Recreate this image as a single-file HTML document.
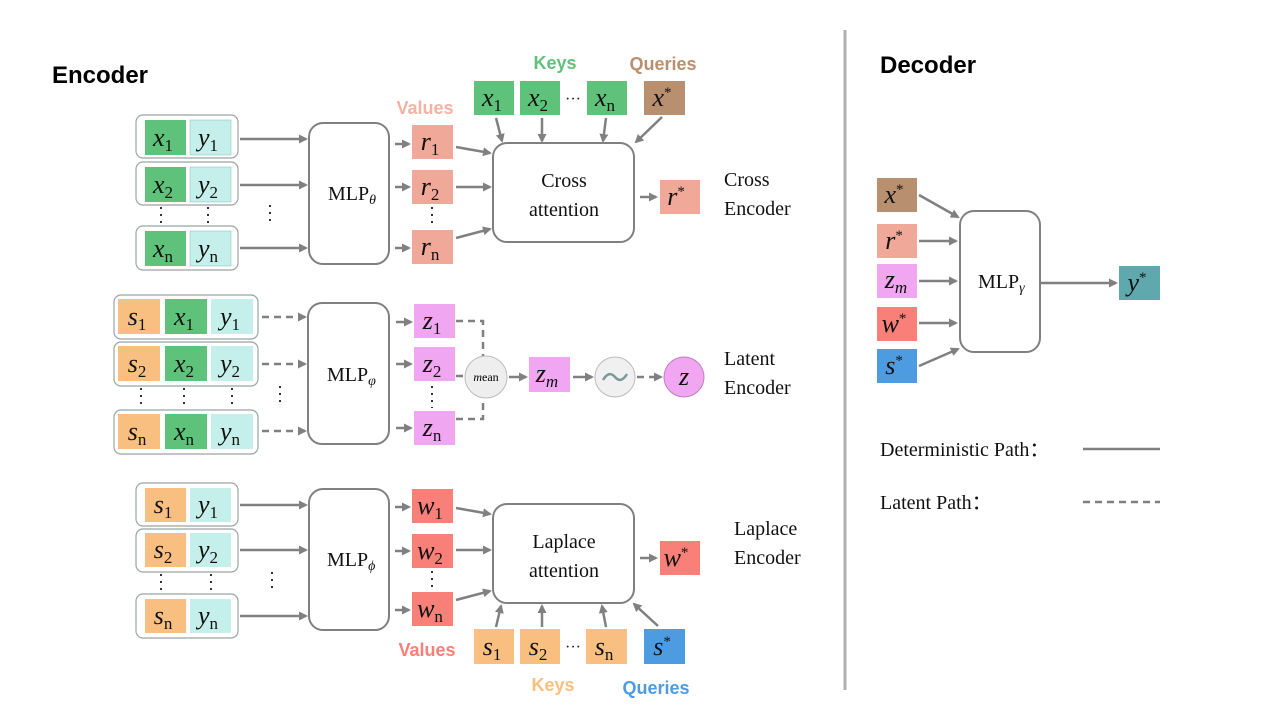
<!DOCTYPE html>
<html><head><meta charset="utf-8"><style>
body{margin:0;background:#fff}
svg{display:block}
.m{font-family:"Liberation Serif",serif;font-style:italic;font-size:26px;fill:#111}
.s{font-style:normal;font-size:17px}
.sup{font-style:normal;font-size:15px}
.t{font-family:"Liberation Serif",serif;font-size:20px;fill:#111}
.b{font-family:"Liberation Sans",sans-serif;font-weight:bold}
.ln{stroke:#808080;stroke-width:2.5;fill:none}
.d{stroke-dasharray:7,5}
.box{fill:#fff;stroke:#808080;stroke-width:2}
.cont{fill:#fff;stroke:#9aa5a5;stroke-width:1.2}
.dot{stroke:#333;stroke-width:2;stroke-dasharray:2,5}
</style></head><body>
<svg width="1280" height="720" viewBox="0 0 1280 720">
<defs><marker id="a" markerWidth="9" markerHeight="9" refX="7" refY="4.5" orient="auto" markerUnits="userSpaceOnUse"><path d="M0,0 L9,4.5 L0,9 z" fill="#808080"/></marker></defs>
<text x="52" y="83" class="b" font-size="24">Encoder</text>
<text x="880" y="73" class="b" font-size="24">Decoder</text>
<line x1="845" y1="30" x2="845" y2="690" stroke="#b0b0b0" stroke-width="3"/>

<!-- Section 1 -->
<rect class="cont" x="136" y="115" width="102" height="43" rx="7"/>
<rect class="cont" x="136" y="162" width="102" height="43" rx="7"/>
<rect class="cont" x="136" y="226" width="102" height="44" rx="7"/>
<g>
<rect x="145" y="120" width="41" height="35" fill="#5fc27a"/><text class="m" x="163" y="146" text-anchor="middle">x<tspan class="s" dy="5">1</tspan></text>
<rect x="190" y="120" width="41" height="35" fill="#c5efea" stroke="#8bb" stroke-width="0.5"/><text class="m" x="208" y="146" text-anchor="middle">y<tspan class="s" dy="5">1</tspan></text>
<rect x="145" y="167" width="41" height="35" fill="#5fc27a"/><text class="m" x="163" y="193" text-anchor="middle">x<tspan class="s" dy="5">2</tspan></text>
<rect x="190" y="167" width="41" height="35" fill="#c5efea" stroke="#8bb" stroke-width="0.5"/><text class="m" x="208" y="193" text-anchor="middle">y<tspan class="s" dy="5">2</tspan></text>
<rect x="145" y="231" width="41" height="35" fill="#5fc27a"/><text class="m" x="163" y="257" text-anchor="middle">x<tspan class="s" dy="5">n</tspan></text>
<rect x="190" y="231" width="41" height="35" fill="#c5efea" stroke="#8bb" stroke-width="0.5"/><text class="m" x="208" y="257" text-anchor="middle">y<tspan class="s" dy="5">n</tspan></text>
</g>
<line class="dot" x1="161" y1="207" x2="161" y2="226"/><line class="dot" x1="208" y1="207" x2="208" y2="226"/><line class="dot" x1="270" y1="205" x2="270" y2="226"/>
<line class="ln" x1="240" y1="139" x2="306" y2="139" marker-end="url(#a)"/>
<line class="ln" x1="240" y1="185" x2="306" y2="185" marker-end="url(#a)"/>
<line class="ln" x1="240" y1="248" x2="306" y2="248" marker-end="url(#a)"/>
<rect class="box" x="309" y="123" width="80" height="141" rx="14"/>
<text class="t" x="328" y="200">MLP<tspan font-size="14" font-style="italic" dy="4">θ</tspan></text>
<text x="425" y="114" class="b" font-size="18" fill="#f4b2a4" text-anchor="middle">Values</text>
<line class="ln" x1="395" y1="144" x2="409" y2="144" marker-end="url(#a)"/>
<line class="ln" x1="395" y1="187" x2="409" y2="187" marker-end="url(#a)"/>
<line class="ln" x1="395" y1="248" x2="409" y2="248" marker-end="url(#a)"/>
<rect x="412" y="125" width="41" height="34" fill="#f0a899"/><text class="m" x="430" y="150" text-anchor="middle">r<tspan class="s" dy="5">1</tspan></text>
<rect x="412" y="170" width="41" height="34" fill="#f0a899"/><text class="m" x="430" y="195" text-anchor="middle">r<tspan class="s" dy="5">2</tspan></text>
<rect x="412" y="230" width="41" height="34" fill="#f0a899"/><text class="m" x="430" y="255" text-anchor="middle">r<tspan class="s" dy="5">n</tspan></text>
<line class="dot" x1="432" y1="207" x2="432" y2="228"/>
<line class="ln" x1="456" y1="147" x2="490" y2="153" marker-end="url(#a)"/>
<line class="ln" x1="456" y1="187" x2="490" y2="187" marker-end="url(#a)"/>
<line class="ln" x1="456" y1="238" x2="490" y2="229" marker-end="url(#a)"/>
<rect class="box" x="493" y="143" width="141" height="99" rx="14"/>
<text class="t" x="564" y="187" text-anchor="middle">Cross</text>
<text class="t" x="564" y="216" text-anchor="middle">attention</text>
<text x="555" y="69" class="b" font-size="18" fill="#5fc27a" text-anchor="middle">Keys</text>
<text x="663" y="70" class="b" font-size="18" fill="#b8906f" text-anchor="middle">Queries</text>
<rect x="474" y="81" width="40" height="34" fill="#5fc27a"/><text class="m" x="492" y="106" text-anchor="middle">x<tspan class="s" dy="5">1</tspan></text>
<rect x="520" y="81" width="40" height="34" fill="#5fc27a"/><text class="m" x="538" y="106" text-anchor="middle">x<tspan class="s" dy="5">2</tspan></text>
<text x="573" y="104" font-size="16" fill="#222" text-anchor="middle">···</text>
<rect x="587" y="81" width="40" height="34" fill="#5fc27a"/><text class="m" x="605" y="106" text-anchor="middle">x<tspan class="s" dy="5">n</tspan></text>
<rect x="644" y="81" width="41" height="34" fill="#b8906f"/><text class="m" x="662" y="106" text-anchor="middle">x<tspan class="sup" dy="-9">*</tspan></text>
<line class="ln" x1="496" y1="118" x2="502" y2="141" marker-end="url(#a)"/>
<line class="ln" x1="542" y1="118" x2="542" y2="141" marker-end="url(#a)"/>
<line class="ln" x1="606" y1="118" x2="603" y2="141" marker-end="url(#a)"/>
<line class="ln" x1="662" y1="117" x2="636" y2="142" marker-end="url(#a)"/>
<line class="ln" x1="640" y1="197" x2="656" y2="197" marker-end="url(#a)"/>
<rect x="660" y="180" width="40" height="34" fill="#f0a899"/><text class="m" x="676" y="205" text-anchor="middle">r<tspan class="sup" dy="-9">*</tspan></text>
<text class="t" x="724" y="186">Cross</text>
<text class="t" x="724" y="215">Encoder</text>

<!-- Section 2 -->
<rect class="cont" x="114" y="295" width="144" height="44" rx="7"/>
<rect class="cont" x="114" y="342" width="144" height="44" rx="7"/>
<rect class="cont" x="114" y="410" width="144" height="44" rx="7"/>
<g>
<rect x="118" y="299" width="42" height="35" fill="#f9bf80"/><text class="m" x="137" y="325" text-anchor="middle">s<tspan class="s" dy="5">1</tspan></text>
<rect x="165" y="299" width="42" height="35" fill="#5fc27a"/><text class="m" x="184" y="325" text-anchor="middle">x<tspan class="s" dy="5">1</tspan></text>
<rect x="211" y="299" width="42" height="35" fill="#c5efea"/><text class="m" x="230" y="325" text-anchor="middle">y<tspan class="s" dy="5">1</tspan></text>
<rect x="118" y="346" width="42" height="35" fill="#f9bf80"/><text class="m" x="137" y="372" text-anchor="middle">s<tspan class="s" dy="5">2</tspan></text>
<rect x="165" y="346" width="42" height="35" fill="#5fc27a"/><text class="m" x="184" y="372" text-anchor="middle">x<tspan class="s" dy="5">2</tspan></text>
<rect x="211" y="346" width="42" height="35" fill="#c5efea"/><text class="m" x="230" y="372" text-anchor="middle">y<tspan class="s" dy="5">2</tspan></text>
<rect x="118" y="414" width="42" height="35" fill="#f9bf80"/><text class="m" x="137" y="440" text-anchor="middle">s<tspan class="s" dy="5">n</tspan></text>
<rect x="165" y="414" width="42" height="35" fill="#5fc27a"/><text class="m" x="184" y="440" text-anchor="middle">x<tspan class="s" dy="5">n</tspan></text>
<rect x="211" y="414" width="42" height="35" fill="#c5efea"/><text class="m" x="230" y="440" text-anchor="middle">y<tspan class="s" dy="5">n</tspan></text>
</g>
<line class="dot" x1="141" y1="388" x2="141" y2="409"/><line class="dot" x1="184" y1="388" x2="184" y2="409"/><line class="dot" x1="232" y1="388" x2="232" y2="409"/>
<line class="dot" x1="280" y1="386" x2="280" y2="407"/>
<line class="ln d" x1="262" y1="317" x2="305" y2="317" marker-end="url(#a)"/>
<line class="ln d" x1="262" y1="364" x2="305" y2="364" marker-end="url(#a)"/>
<line class="ln d" x1="262" y1="431" x2="305" y2="431" marker-end="url(#a)"/>
<rect class="box" x="308" y="303" width="81" height="141" rx="14"/>
<text class="t" x="327" y="381">MLP<tspan font-size="14" font-style="italic" dy="4">φ</tspan></text>
<line class="ln" x1="396" y1="322" x2="411" y2="322" marker-end="url(#a)"/>
<line class="ln" x1="396" y1="364" x2="411" y2="364" marker-end="url(#a)"/>
<line class="ln" x1="396" y1="428" x2="411" y2="428" marker-end="url(#a)"/>
<rect x="414" y="304" width="41" height="34" fill="#f0a6f0"/><text class="m" x="432" y="329" text-anchor="middle">z<tspan class="s" dy="5">1</tspan></text>
<rect x="414" y="347" width="41" height="34" fill="#f0a6f0"/><text class="m" x="432" y="372" text-anchor="middle">z<tspan class="s" dy="5">2</tspan></text>
<rect x="414" y="411" width="41" height="34" fill="#f0a6f0"/><text class="m" x="432" y="436" text-anchor="middle">z<tspan class="s" dy="5">n</tspan></text>
<line class="dot" x1="432" y1="386" x2="432" y2="408"/>
<path class="ln d" d="M456,321 H483 V356"/>
<path class="ln d" d="M456,419 H483 V398"/>
<line class="ln d" x1="456" y1="376" x2="465" y2="376"/>
<circle cx="486" cy="377" r="21" fill="#eeeeee" stroke="#bbb" stroke-width="1"/>
<text x="486" y="381" font-family="Liberation Serif,serif" font-size="12" text-anchor="middle"><tspan font-style="italic">m</tspan>ean</text>
<line class="ln" x1="509" y1="377" x2="526" y2="377" marker-end="url(#a)"/>
<rect x="529" y="357" width="41" height="35" fill="#f0a6f0"/><text class="m" x="547" y="382" text-anchor="middle">z<tspan class="s" dy="5" style="font-style:italic">m</tspan></text>
<line class="ln" x1="573" y1="377" x2="592" y2="377" marker-end="url(#a)"/>
<circle cx="615" cy="377" r="20" fill="#f0f0f0" stroke="#bbb" stroke-width="1"/>
<path d="M603,380 Q609,370 615,377 T627,374" stroke="#7a9a9a" stroke-width="2.5" fill="none"/>
<line class="ln d" x1="637" y1="377" x2="661" y2="377" marker-end="url(#a)"/>
<circle cx="684" cy="377" r="20" fill="#f0a6f0" stroke="#c080c0" stroke-width="1"/>
<text class="m" x="684" y="385" text-anchor="middle">z</text>
<text class="t" x="724" y="365">Latent</text>
<text class="t" x="724" y="394">Encoder</text>

<!-- Section 3 -->
<rect class="cont" x="136" y="483" width="102" height="43" rx="7"/>
<rect class="cont" x="136" y="529" width="102" height="43" rx="7"/>
<rect class="cont" x="136" y="594" width="102" height="44" rx="7"/>
<g>
<rect x="145" y="488" width="41" height="34" fill="#f9bf80"/><text class="m" x="163" y="513" text-anchor="middle">s<tspan class="s" dy="5">1</tspan></text>
<rect x="190" y="488" width="41" height="34" fill="#c5efea"/><text class="m" x="208" y="513" text-anchor="middle">y<tspan class="s" dy="5">1</tspan></text>
<rect x="145" y="533" width="41" height="34" fill="#f9bf80"/><text class="m" x="163" y="558" text-anchor="middle">s<tspan class="s" dy="5">2</tspan></text>
<rect x="190" y="533" width="41" height="34" fill="#c5efea"/><text class="m" x="208" y="558" text-anchor="middle">y<tspan class="s" dy="5">2</tspan></text>
<rect x="145" y="599" width="41" height="34" fill="#f9bf80"/><text class="m" x="163" y="624" text-anchor="middle">s<tspan class="s" dy="5">n</tspan></text>
<rect x="190" y="599" width="41" height="34" fill="#c5efea"/><text class="m" x="208" y="624" text-anchor="middle">y<tspan class="s" dy="5">n</tspan></text>
</g>
<line class="dot" x1="161" y1="574" x2="161" y2="594"/><line class="dot" x1="211" y1="574" x2="211" y2="594"/><line class="dot" x1="272" y1="572" x2="272" y2="592"/>
<line class="ln" x1="240" y1="505" x2="306" y2="505" marker-end="url(#a)"/>
<line class="ln" x1="240" y1="550" x2="306" y2="550" marker-end="url(#a)"/>
<line class="ln" x1="240" y1="616" x2="306" y2="616" marker-end="url(#a)"/>
<rect class="box" x="309" y="489" width="80" height="141" rx="14"/>
<text class="t" x="327" y="566">MLP<tspan font-size="14" font-style="italic" dy="4">ϕ</tspan></text>
<line class="ln" x1="395" y1="507" x2="409" y2="507" marker-end="url(#a)"/>
<line class="ln" x1="395" y1="551" x2="409" y2="551" marker-end="url(#a)"/>
<line class="ln" x1="395" y1="610" x2="409" y2="610" marker-end="url(#a)"/>
<rect x="412" y="489" width="41" height="34" fill="#f88078"/><text class="m" x="430" y="514" text-anchor="middle">w<tspan class="s" dy="5">1</tspan></text>
<rect x="412" y="534" width="41" height="34" fill="#f88078"/><text class="m" x="430" y="559" text-anchor="middle">w<tspan class="s" dy="5">2</tspan></text>
<rect x="412" y="592" width="41" height="34" fill="#f88078"/><text class="m" x="430" y="617" text-anchor="middle">w<tspan class="s" dy="5">n</tspan></text>
<line class="dot" x1="432" y1="571" x2="432" y2="590"/>
<line class="ln" x1="456" y1="508" x2="490" y2="514" marker-end="url(#a)"/>
<line class="ln" x1="456" y1="550" x2="490" y2="550" marker-end="url(#a)"/>
<line class="ln" x1="456" y1="600" x2="490" y2="591" marker-end="url(#a)"/>
<rect class="box" x="493" y="504" width="141" height="99" rx="14"/>
<text class="t" x="564" y="548" text-anchor="middle">Laplace</text>
<text class="t" x="564" y="577" text-anchor="middle">attention</text>
<line class="ln" x1="640" y1="558" x2="656" y2="558" marker-end="url(#a)"/>
<rect x="660" y="541" width="40" height="34" fill="#f88078"/><text class="m" x="676" y="566" text-anchor="middle">w<tspan class="sup" dy="-9">*</tspan></text>
<text class="t" x="734" y="535">Laplace</text>
<text class="t" x="734" y="564">Encoder</text>
<rect x="474" y="629" width="40" height="35" fill="#f9bf80"/><text class="m" x="492" y="655" text-anchor="middle">s<tspan class="s" dy="5">1</tspan></text>
<rect x="520" y="629" width="40" height="35" fill="#f9bf80"/><text class="m" x="538" y="655" text-anchor="middle">s<tspan class="s" dy="5">2</tspan></text>
<text x="573" y="652" font-size="16" fill="#222" text-anchor="middle">···</text>
<rect x="586" y="629" width="41" height="35" fill="#f9bf80"/><text class="m" x="604" y="655" text-anchor="middle">s<tspan class="s" dy="5">n</tspan></text>
<rect x="644" y="629" width="41" height="35" fill="#4d9be0"/><text class="m" x="662" y="655" text-anchor="middle">s<tspan class="sup" dy="-9">*</tspan></text>
<line class="ln" x1="496" y1="627" x2="501" y2="606" marker-end="url(#a)"/>
<line class="ln" x1="542" y1="627" x2="542" y2="606" marker-end="url(#a)"/>
<line class="ln" x1="606" y1="627" x2="602" y2="606" marker-end="url(#a)"/>
<line class="ln" x1="658" y1="626" x2="634" y2="604" marker-end="url(#a)"/>
<text x="427" y="656" class="b" font-size="18" fill="#f88078" text-anchor="middle">Values</text>
<text x="553" y="691" class="b" font-size="18" fill="#f9bf80" text-anchor="middle">Keys</text>
<text x="656" y="694" class="b" font-size="18" fill="#4d9be0" text-anchor="middle">Queries</text>

<!-- Decoder -->
<rect x="877" y="178" width="40" height="34" fill="#b8906f"/><text class="m" x="894" y="203" text-anchor="middle">x<tspan class="sup" dy="-9">*</tspan></text>
<rect x="877" y="224" width="40" height="34" fill="#f0a899"/><text class="m" x="894" y="249" text-anchor="middle">r<tspan class="sup" dy="-9">*</tspan></text>
<rect x="877" y="264" width="40" height="34" fill="#f0a6f0"/><text class="m" x="896" y="288" text-anchor="middle">z<tspan class="s" dy="5" style="font-style:italic">m</tspan></text>
<rect x="877" y="307" width="40" height="34" fill="#f88078"/><text class="m" x="894" y="332" text-anchor="middle">w<tspan class="sup" dy="-9">*</tspan></text>
<rect x="877" y="349" width="40" height="34" fill="#4d9be0"/><text class="m" x="894" y="374" text-anchor="middle">s<tspan class="sup" dy="-9">*</tspan></text>
<line class="ln" x1="919" y1="195" x2="958" y2="217" marker-end="url(#a)"/>
<line class="ln" x1="919" y1="241" x2="956" y2="241" marker-end="url(#a)"/>
<line class="ln" x1="919" y1="281" x2="956" y2="281" marker-end="url(#a)"/>
<line class="ln" x1="919" y1="323" x2="956" y2="323" marker-end="url(#a)"/>
<line class="ln" x1="919" y1="366" x2="958" y2="349" marker-end="url(#a)"/>
<rect class="box" x="960" y="211" width="80" height="141" rx="14"/>
<text class="t" x="978" y="288">MLP<tspan font-size="14" font-style="italic" dy="4">γ</tspan></text>
<line class="ln" x1="1041" y1="283" x2="1116" y2="283" marker-end="url(#a)"/>
<rect x="1119" y="266" width="41" height="34" fill="#5fa8ad"/><text class="m" x="1137" y="291" text-anchor="middle">y<tspan class="sup" dy="-9">*</tspan></text>
<text class="t" x="880" y="456">Deterministic Path：</text>
<line class="ln" x1="1083" y1="449" x2="1160" y2="449"/>
<text class="t" x="880" y="509">Latent Path：</text>
<line class="ln d" x1="1083" y1="502" x2="1160" y2="502"/>
</svg>
</body></html>
